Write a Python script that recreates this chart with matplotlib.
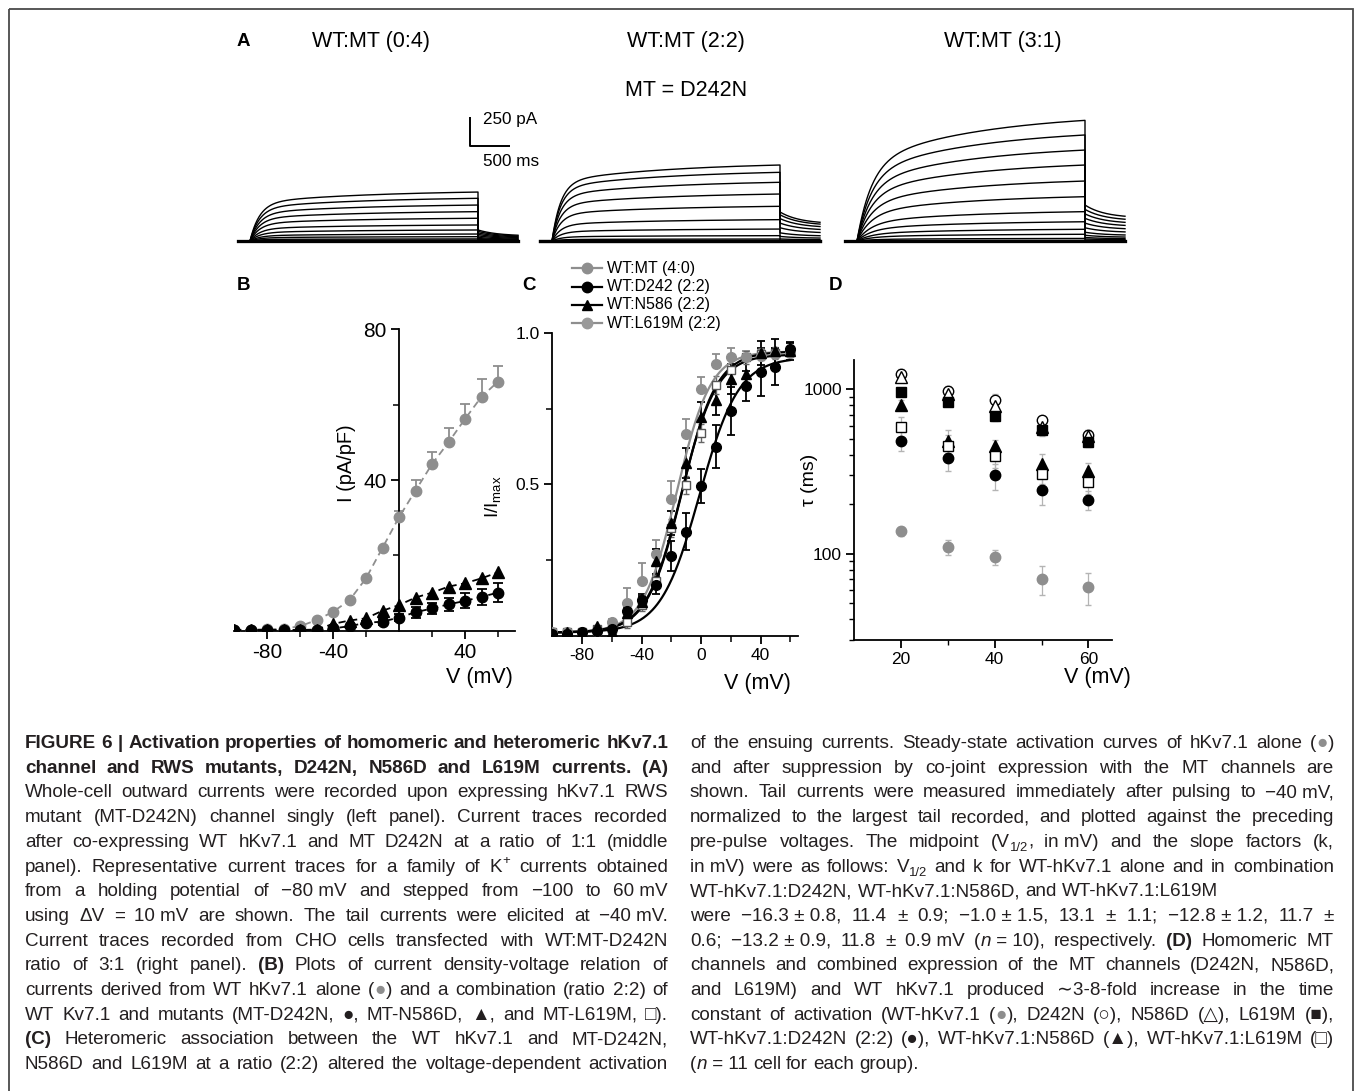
import numpy as np
import matplotlib
matplotlib.use('Agg')
import matplotlib.pyplot as plt
import matplotlib.transforms as mtransforms
from matplotlib.lines import Line2D
from matplotlib.patches import Rectangle
from matplotlib.ticker import LogLocator, NullFormatter

# ---------------- data ----------------
# Panel A: steady-state amplitude (pA) of each trace, steps -100..60 mV
A_titles = ["WT:MT (0:4)", "WT:MT (2:2)", "WT:MT (3:1)"]
A_amp_04 = [0, 0, 0, 0, 0, 3, 8, 18, 37, 60, 95, 138, 196, 253, 310, 368, 422]
A_amp_22 = [0, 0, 0, 0, 0, 0, 0, 5, 17, 46, 103, 184, 299, 405, 506, 592, 655]
A_amp_31 = [0, 0, 0, 0, 0, 5, 22, 58, 101, 166, 253, 382, 517, 655, 784, 914, 1040]
A_tail_max = [95, 250, 310]          # largest tail current (pA)
A_tail_ratio = [0.45, 0.59, 0.64]    # tail end / tail start
A_fast_frac = [0.75, 0.75, 0.60]
A_tau_fast = [120, 110, 180]         # ms
A_tau_slow = 1500                    # ms
A_tau_tail = 250                     # ms
A_pre, A_pulse, A_tail = 150, 2850, 500   # ms

# Panel B: current density (pA/pF)
V_B = [-100, -90, -80, -70, -60, -50, -40, -30, -20, -10, 0, 10, 20, 30, 40, 50, 60]
B_wt = [0.3, 0.3, 0.4, 0.5, 1.2, 2.8, 5.0, 8.1, 13.9, 22.0, 30.1, 37.2, 44.2, 50.0, 56.2, 62.1, 66.1]
B_wt_err = [0, 0, 0, 0, 0, 0, 0, 0, 0, 0, 1.8, 2.7, 3.2, 3.7, 4.1, 4.7, 4.2]
B_n586 = [0.2, 0.2, 0.2, 0.2, 0.2, 0.3, 1.8, 2.7, 3.3, 5.3, 6.8, 8.8, 10.1, 11.7, 12.6, 13.9, 15.5]
B_d242 = [0.1, 0.1, 0.1, 0.1, 0.1, 0.2, 0.6, 1.2, 2.1, 2.4, 3.5, 4.9, 5.9, 7.0, 7.9, 9.0, 10.1]
B_d242_err = [0, 0, 0, 0, 0, 0, 0.3, 0.4, 0.6, 0.8, 1.0, 1.4, 1.5, 1.7, 2.0, 2.2, 2.5]

# Panel C: normalized tail current I/Imax
V_C = [-100, -90, -80, -70, -60, -50, -40, -30, -20, -10, 0, 10, 20, 30, 40, 50, 60]
C_wt = [0.01, 0.01, 0.01, 0.015, 0.046, 0.107, 0.179, 0.27, 0.451, 0.666, 0.816, 0.90, 0.92, 0.92, 0.925, 0.93, 0.935]
C_wt_err = [0, 0, 0, 0, 0.01, 0.05, 0.06, 0.046, 0.06, 0.05, 0.04, 0.03, 0.03, 0.02, 0.02, 0.02, 0.02]
C_d242 = [0.005, 0.005, 0.01, 0.015, 0.02, 0.08, 0.118, 0.168, 0.264, 0.344, 0.495, 0.625, 0.743, 0.826, 0.873, 0.89, 0.948]
C_d242_err = [0, 0, 0, 0, 0.01, 0.02, 0.02, 0.03, 0.05, 0.06, 0.057, 0.07, 0.08, 0.05, 0.08, 0.06, 0.02]
C_n586 = [0.005, 0.01, 0.012, 0.032, 0.012, 0.075, 0.11, 0.245, 0.371, 0.57, 0.724, 0.78, 0.85, 0.865, 0.934, 0.94, 0.94]
C_n586_err = [0, 0, 0, 0, 0, 0.02, 0.02, 0.04, 0.04, 0.05, 0.05, 0.05, 0.05, 0.05, 0.04, 0.04, 0.03]
C_l619 = [0.01, 0.01, 0.01, 0.02, 0.02, 0.046, 0.10, 0.18, 0.355, 0.498, 0.67, 0.83, 0.88, 0.92, 0.93, 0.935, 0.94]
C_l619_err = [0, 0, 0, 0, 0.01, 0.02, 0.02, 0.02, 0.03, 0.03, 0.03, 0.03, 0.03, 0.02, 0.02, 0.02, 0.02]
# Boltzmann fits (V1/2, k from caption), plateau
FIT_V12 = [-16.3, -1.0, -12.8, -13.2]
FIT_K = [11.4, 13.1, 11.7, 11.8]
FIT_TOP = [0.93, 0.91, 0.93, 0.92]
FIT_BASE = 0.01
C_legend = ["WT:MT (4:0)", "WT:D242 (2:2)", "WT:N586 (2:2)", "WT:L619M (2:2)"]

# Panel D: activation time constants (ms)
V_D = [20, 30, 40, 50, 60]
D_wt = [137, 110, 95, 70.5, 63]
D_wt_err = [8, 12, 10, 14, 14]
D_d242 = [1239, 967, 861, 645, 528]
D_d242_err = [80, 70, 70, 40, 40]
D_n586 = [1183, 936, 784, 588, 521]
D_n586_err = [60, 50, 50, 40, 40]
D_l619 = [954, 829, 682, 561, 474]
D_l619_err = [50, 40, 40, 40, 30]
D_wt_d242 = [486, 381, 299, 245, 213]
D_wt_d242_err = [68, 62, 54, 47, 28]
D_wt_n586 = [803, 487, 453, 351, 316]
D_wt_n586_err = [60, 80, 40, 50, 40]
D_wt_l619 = [588, 448, 390, 306, 272]
D_wt_l619_err = [90, 80, 60, 40, 40]

# Caption
CAP_LEFT = [
    "*FIGURE 6 | Activation properties of homomeric and heteromeric hKv7.1*",
    "*channel and RWS mutants, D242N, N586D and L619M currents. (A)*",
    "Whole-cell outward currents were recorded upon expressing hKv7.1 RWS",
    "mutant (MT-D242N) channel singly (left panel). Current traces recorded",
    "after co-expressing WT hKv7.1 and MT D242N at a ratio of 1:1 (middle",
    "panel). Representative current traces for a family of K^{+} currents obtained",
    "from a holding potential of \u221280\u00a0mV and stepped from \u2212100 to 60\u00a0mV",
    "using \u0394V = 10\u00a0mV are shown. The tail currents were elicited at \u221240\u00a0mV.",
    "Current traces recorded from CHO cells transfected with WT:MT-D242N",
    "ratio of 3:1 (right panel). *(B)* Plots of current density-voltage relation of",
    "currents derived from WT hKv7.1 alone (@) and a combination (ratio 2:2) of",
    "WT Kv7.1 and mutants (MT-D242N, \u25cf, MT-N586D, \u25b2, and MT-L619M, \u25a1).",
    "*(C)* Heteromeric association between the WT hKv7.1 and MT-D242N,",
    "N586D and L619M at a ratio (2:2) altered the voltage-dependent activation",
]
CAP_RIGHT = [
    "of the ensuing currents. Steady-state activation curves of hKv7.1 alone (@)",
    "and after suppression by co-joint expression with the MT channels are",
    "shown. Tail currents were measured immediately after pulsing to \u221240\u00a0mV,",
    "normalized to the largest tail recorded, and plotted against the preceding",
    "pre-pulse voltages. The midpoint (V_{1/2}, in\u00a0mV) and the slope factors (k,",
    "in\u00a0mV) were as follows: V_{1/2} and k for WT-hKv7.1 alone and in combination",
    "WT-hKv7.1:D242N, WT-hKv7.1:N586D, and WT-hKv7.1:L619M",
    "were \u221216.3\u00a0\u00b1\u00a00.8, 11.4 \u00b1 0.9; \u22121.0\u00a0\u00b1\u00a01.5, 13.1 \u00b1 1.1; \u221212.8\u00a0\u00b1\u00a01.2, 11.7 \u00b1",
    "0.6; \u221213.2\u00a0\u00b1\u00a00.9, 11.8 \u00b1 0.9\u00a0mV (%n%\u00a0=\u00a010), respectively. *(D)* Homomeric MT",
    "channels and combined expression of the MT channels (D242N, N586D,",
    "and L619M) and WT hKv7.1 produced \u223c3-8-fold increase in the time",
    "constant of activation (WT-hKv7.1 (@), D242N (\u25cb), N586D (\u25b3), L619M (\u25a0),",
    "WT-hKv7.1:D242N (2:2) (\u25cf), WT-hKv7.1:N586D (\u25b2), WT-hKv7.1:L619M (\u25a1)",
    "(%n%\u00a0=\u00a011 cell for each group).",
]
CAP_RIGHT_NOJUST = [6, 13]

# ---------------- style / layout ----------------
W, H = 1354, 1091
GRAY = '#8e8e8e'
LGRAY = '#b4b4b4'
TXT = '#231f20'
plt.rcParams['font.family'] = ['Liberation Sans', 'DejaVu Sans']
plt.rcParams['mathtext.fontset'] = 'custom'
plt.rcParams['mathtext.rm'] = 'Liberation Sans'
plt.rcParams['mathtext.it'] = 'Liberation Sans:italic'

fig = plt.figure(figsize=(W / 100, H / 100), dpi=100)
fig.patch.set_facecolor('white')
T = mtransforms.Affine2D().scale(1 / W, -1 / H).translate(0, 1) + fig.transFigure


def rect(l, t, r, b):
    return [l / W, 1 - b / H, (r - l) / W, (b - t) / H]


def ptext(x, y, s, **kw):
    kw.setdefault('ha', 'center')
    kw.setdefault('va', 'center')
    return fig.text(x, y, s, transform=T, **kw)


fig.add_artist(Rectangle((8.5, 8.5), 1344, 1110, transform=T, fill=False,
                         ec='#4a4a4a', lw=1.3))

# ---------------- Panel A ----------------
MS_PER_PX, PA_PER_PX = 12.5, 250 / 29.0
axA = fig.add_axes(rect(200, 100, 1150, 250))
axA.set_axis_off()
axA.set_xlim(0, 950 * MS_PER_PX)
axA.set_ylim(-9 * PA_PER_PX, 141 * PA_PER_PX)
A_offsets = [(238 - 200) * MS_PER_PX, (540 - 200) * MS_PER_PX, (845 - 200) * MS_PER_PX]
amps_all = [A_amp_04, A_amp_22, A_amp_31]
tp = np.linspace(0, A_pulse, 500)
tt = np.linspace(0, A_tail, 120)
for g in range(3):
    a, tf = A_fast_frac[g], A_tau_fast[g]
    shape = 1 - a * np.exp(-tp / tf) - (1 - a) * np.exp(-tp / A_tau_slow)
    shape = shape / shape[-1]
    amax = max(amps_all[g])
    r = A_tail_ratio[g]
    t0 = A_offsets[g]
    for amp in amps_all[g]:
        tail0 = A_tail_max[g] * amp / amax
        yt = tail0 * (r + (1 - r) * np.exp(-tt / A_tau_tail))
        x = np.concatenate([[t0, t0 + A_pre], t0 + A_pre + tp, t0 + A_pre + A_pulse + tt])
        y = np.concatenate([[0, 0], amp * shape, yt])
        axA.plot(x, y, color='k', lw=2.2 if amp == 0 else 1.0)
# scale bar
sbx = (470 - 200) * MS_PER_PX
sby = (241 - 145.7) * PA_PER_PX
axA.plot([sbx, sbx, sbx + 500], [sby + 250, sby, sby], color='k', lw=1.4, solid_capstyle='butt')
ptext(483, 119.5, "250 pA", ha='left', fontsize=12.3)
ptext(483, 161, "500 ms", ha='left', fontsize=12.3)

ptext(243, 42, "A", fontsize=13.5, fontweight='bold')
for xc, s in zip([371, 686, 1003], A_titles):
    ptext(xc, 42, s, fontsize=15.5)
ptext(686, 90, "MT = D242N", fontsize=15.5)

# ---------------- Panel B ----------------
axB = fig.add_axes(rect(234, 329.3, 514.5, 630.7))
axB.set_xlim(-100, 70)
axB.set_ylim(0, 80)
for s in ['top', 'right']:
    axB.spines[s].set_visible(False)
axB.spines['left'].set_position(('data', 0))
for s in ['left', 'bottom']:
    axB.spines[s].set_linewidth(1.3)
axB.set_xticks([-80, -40, 40])
axB.set_xticklabels(['-80', '-40', '40'])
axB.set_xticks([-60, -20, 20, 60], minor=True)
axB.set_yticks([40, 80])
axB.set_yticklabels(['40', '80'])
axB.set_yticks([20, 60], minor=True)
axB.tick_params(which='major', direction='out', length=6, width=1.3, labelsize=15, pad=3)
axB.tick_params(which='minor', direction='out', length=4, width=1.1)
zB = np.zeros(len(V_B))
axB.errorbar(V_B, B_wt, yerr=[zB, B_wt_err], fmt='none', ecolor=GRAY, elinewidth=1.3, capsize=3.5, capthick=1.3, zorder=2)
axB.plot(V_B, B_wt, ls=(0, (4, 2.5)), color=GRAY, lw=1.3, marker='o', ms=7.5,
         mfc=GRAY, mec=GRAY, zorder=3)
axB.errorbar(V_B, B_d242, yerr=B_d242_err, fmt='none', ecolor='k', elinewidth=1.3, capsize=3.5, capthick=1.3, zorder=2)
axB.plot(V_B, B_n586, ls=(0, (4, 2.5)), color='k', lw=1.3, marker='^', ms=8,
         mfc='k', mec='k', zorder=4)
axB.plot(V_B, B_d242, ls=(0, (4, 2.5)), color='k', lw=1.3, marker='o', ms=7.5,
         mfc='k', mec='k', zorder=4)
ptext(243, 285, "B", fontsize=13.5, fontweight='bold')
ptext(347, 463, "I (pA/pF)", rotation=90, fontsize=14.4)
ptext(479, 678, "V (mV)", fontsize=15.5)

# ---------------- Panel C ----------------
axC = fig.add_axes(rect(552.25, 333.3, 797.7, 635.5))
axC.set_xlim(-100, 65)
axC.set_ylim(0, 1.0)
for s in ['top', 'right']:
    axC.spines[s].set_visible(False)
for s in ['left', 'bottom']:
    axC.spines[s].set_linewidth(1.3)
axC.set_xticks([-80, -40, 0, 40])
axC.set_xticklabels(['-80', '-40', '0', '40'])
axC.set_xticks([-60, -20, 20, 60], minor=True)
axC.set_yticks([0.5, 1.0])
axC.set_yticklabels(['0.5', '1.0'])
axC.set_yticks([0.25, 0.75], minor=True)
axC.tick_params(which='major', direction='out', length=6, width=1.3, labelsize=12.5, pad=3)
axC.tick_params(which='minor', direction='out', length=4, width=1.1)
Vfit = np.linspace(-100, 60, 400)
fit_colors = [GRAY, 'k', 'k', 'k']
for v12, k, top, c in zip(FIT_V12, FIT_K, FIT_TOP, fit_colors):
    axC.plot(Vfit, FIT_BASE + top / (1 + np.exp((v12 - Vfit) / k)), color=c, lw=1.6, zorder=3)
zC = np.zeros(len(V_C))
axC.errorbar(V_C, C_wt, yerr=[zC, C_wt_err], fmt='none', ecolor=GRAY, elinewidth=1.3, capsize=3, capthick=1.3, zorder=2)
axC.errorbar(V_C, C_d242, yerr=C_d242_err, fmt='none', ecolor='k', elinewidth=1.3, capsize=3, capthick=1.3, zorder=2)
axC.errorbar(V_C, C_n586, yerr=C_n586_err, fmt='none', ecolor='k', elinewidth=1.3, capsize=3, capthick=1.3, zorder=2)
axC.errorbar(V_C, C_l619, yerr=C_l619_err, fmt='none', ecolor='#666666', elinewidth=1.0, capsize=2.5, zorder=2)
axC.plot(V_C, C_l619, ls='none', marker='s', ms=5.5, mfc='white', mec='#555555', mew=1.0, zorder=4)
axC.plot(V_C, C_wt, ls='none', marker='o', ms=7, mfc=GRAY, mec=GRAY, zorder=4)
axC.plot(V_C, C_n586, ls='none', marker='^', ms=7.5, mfc='k', mec='k', zorder=5)
axC.plot(V_C, C_d242, ls='none', marker='o', ms=7, mfc='k', mec='k', zorder=5)
ptext(529, 285, "C", fontsize=13.5, fontweight='bold')
ptext(493, 497, r"I/I$_{\rm max}$", rotation=90, fontsize=13.5)
ptext(757, 683, "V (mV)", fontsize=15.5)
# legend
leg_y = [268.3, 286.7, 305, 323.3]
leg_style = [(GRAY, GRAY, 'o'), ('k', 'k', 'o'), ('k', 'k', '^'), (GRAY, '#9a9a9a', 'o')]
for yy, (lc, mc, mk), lab in zip(leg_y, leg_style, C_legend):
    fig.add_artist(Line2D([571.7, 601.7], [yy, yy], transform=T, color=lc, lw=1.6))
    fig.add_artist(Line2D([586.7], [yy], transform=T, ls='none', marker=mk, ms=7.5,
                          mfc=mc, mec=mc))
    ptext(607, yy, lab, ha='left', fontsize=11.5)

# ---------------- Panel D ----------------
axD = fig.add_axes(rect(854.3, 360, 1111.7, 640))
axD.set_yscale('log')
axD.set_xlim(10, 65)
axD.set_ylim(30, 1500)
for s in ['top', 'right']:
    axD.spines[s].set_visible(False)
for s in ['left', 'bottom']:
    axD.spines[s].set_linewidth(1.3)
axD.set_xticks([20, 40, 60])
axD.set_xticklabels(['20', '40', '60'])
axD.set_xticks([30, 50], minor=True)
axD.set_yticks([100, 1000])
axD.set_yticklabels(['100', '1000'])
axD.yaxis.set_minor_locator(LogLocator(base=10, subs=(2, 3, 4, 5, 6, 7, 8, 9)))
axD.yaxis.set_minor_formatter(NullFormatter())
axD.tick_params(which='major', direction='out', length=6, width=1.3, labelsize=12.5, pad=3)
axD.tick_params(which='minor', direction='out', length=3.5, width=1.0)
D_series = [
    (D_wt, D_wt_err, 'o', GRAY, GRAY, 7.5),
    (D_d242, D_d242_err, 'o', 'white', 'k', 7.5),
    (D_n586, D_n586_err, '^', 'white', 'k', 8),
    (D_l619, D_l619_err, 's', 'k', 'k', 6.5),
    (D_wt_d242, D_wt_d242_err, 'o', 'k', 'k', 7.5),
    (D_wt_n586, D_wt_n586_err, '^', 'k', 'k', 8),
    (D_wt_l619, D_wt_l619_err, 's', 'white', 'k', 6.5),
]
for vals, err, mk, fc, ec, ms in D_series:
    axD.errorbar(V_D, vals, yerr=err, fmt='none', ecolor=LGRAY, elinewidth=0.9, capsize=2, zorder=2)
for vals, err, mk, fc, ec, ms in D_series:
    axD.plot(V_D, vals, ls='none', marker=mk, ms=ms, mfc=fc, mec=ec, mew=1.0, zorder=4)
ptext(835, 285, "D", fontsize=13.5, fontweight='bold')
ptext(810, 480, "\u03c4 (ms)", rotation=90, fontsize=14)
ptext(1097, 678, "V (mV)", fontsize=15.5)

# ---------------- Caption ----------------
def parse(s):
    words, pieces = [], []
    st = {'buf': '', 'b': False, 'i': False}

    def flush():
        if st['buf']:
            pieces.append((st['buf'], st['b'], st['i'], 0, None))
            st['buf'] = ''
    i = 0
    while i < len(s):
        c = s[i]
        if c == '*':
            flush(); st['b'] = not st['b']
        elif c == '%':
            flush(); st['i'] = not st['i']
        elif c in '_^' and i + 1 < len(s) and s[i + 1] == '{':
            flush()
            j = s.index('}', i)
            pieces.append((s[i + 2:j], st['b'], st['i'], -1 if c == '_' else 1, None))
            i = j
        elif c == '@':
            flush(); pieces.append(('\u25cf', st['b'], st['i'], 0, GRAY))
        elif c == ' ':
            flush()
            if pieces:
                words.append(list(pieces)); pieces.clear()
        else:
            st['buf'] += c
        i += 1
    flush()
    if pieces:
        words.append(list(pieces))
    return words


renderer = fig.canvas.get_renderer()


def build(line_str, fs):
    objs = []
    for w in parse(line_str):
        wl = []
        for (t, b, it, sc, col) in w:
            size = fs * 0.7 if sc else fs
            tx = fig.text(0, 0, t, transform=T, fontsize=size,
                          fontweight='bold' if b else 'normal',
                          fontstyle='italic' if it else 'normal',
                          color=col or TXT, ha='left', va='baseline')
            wl.append([tx, sc, 0.0])
        objs.append(wl)
    return objs


def measure(objs):
    tot = 0
    for wl in objs:
        for p in wl:
            p[2] = p[0].get_window_extent(renderer).width
            tot += p[2]
    return tot


def space_width(fs):
    a = fig.text(0, 0, "n n", fontsize=fs)
    b = fig.text(0, 0, "nn", fontsize=fs)
    w = a.get_window_extent(renderer).width - b.get_window_extent(renderer).width
    a.remove(); b.remove()
    return w


cols = [(CAP_LEFT, 25, 668, []), (CAP_RIGHT, 690, 1334, CAP_RIGHT_NOJUST)]
FS0 = 10.0
sp0 = space_width(FS0)
ratio = 1e9
built = []
for lines, x0, x1, nojust in cols:
    col_objs = []
    for li, s in enumerate(lines):
        objs = build(s, FS0)
        tot = measure(objs)
        nat = tot + sp0 * (len(objs) - 1)
        if li not in nojust:
            ratio = min(ratio, (x1 - x0) / nat)
        col_objs.append(objs)
    built.append(col_objs)
FS = FS0 * ratio * 0.995
sp = space_width(FS)

Y0, DY = 748.0, 24.7
for (lines, x0, x1, nojust), col_objs in zip(cols, built):
    for li, objs in enumerate(col_objs):
        for wl in objs:
            for p in wl:
                p[0].set_fontsize(FS * 0.7 if p[1] else FS)
        tot = measure(objs)
        ng = len(objs) - 1
        if li in nojust or ng == 0:
            gap = sp
        else:
            gap = (x1 - x0 - tot) / ng
        x = x0
        yb = Y0 + li * DY
        fpx = FS * 100 / 72
        for wl in objs:
            for tx, sc, w in wl:
                dy = 0.22 * fpx if sc == -1 else (-0.38 * fpx if sc == 1 else 0)
                tx.set_position((x, yb + dy))
                x += w
            x += gap

fig.savefig('out.png', dpi=100, facecolor='white')
